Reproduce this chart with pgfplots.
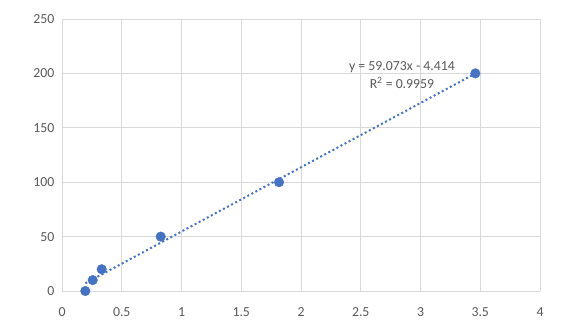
\documentclass[border=0pt]{standalone}
\usepackage{pgfplots}
\pgfplotsset{compat=1.18}
\usepackage{fontspec}
\setmainfont{Carlito}
\definecolor{ptblue}{HTML}{4472C4}
\definecolor{gridgray}{HTML}{D9D9D9}
\definecolor{txtgray}{HTML}{595959}
\begin{document}
\begin{tikzpicture}
\path[use as bounding box] (0,0) rectangle (563bp,330bp);
\begin{axis}[
  at={(62bp,39bp)}, anchor=south west,
  scale only axis, width=478bp, height=272bp,
  xmin=0, xmax=4, ymin=0, ymax=250,
  xtick distance=0.5, ytick distance=50,
  grid=major, major grid style={gridgray, line width=0.8bp},
  axis line style={draw=none},
  tick style={draw=none},
  /pgf/number format/assume math mode=true,
  ticklabel style={font=\fontsize{13.8bp}{15bp}\selectfont, text=txtgray},
  xticklabel style={yshift=-13bp},
  yticklabel style={xshift=-4bp},
  clip=false,
]
\addplot[ptblue, line width=2bp, dash pattern=on 2bp off 2.6bp] coordinates {(0.195,7.105) (3.459,199.92)};
\addplot[only marks, mark=*, mark size=4.8bp, mark options={fill=ptblue, draw=ptblue}] coordinates {
(0.195,0) (0.257,10) (0.332,20) (0.826,50) (1.816,100) (3.459,200)};
\node[align=center, text=txtgray, font=\fontsize{13.8bp}{18bp}\selectfont] at (axis cs:2.845,198.5) {y = 59.073x - 4.414\\R\textsuperscript{2} = 0.9959};
\end{axis}
\end{tikzpicture}
\end{document}
